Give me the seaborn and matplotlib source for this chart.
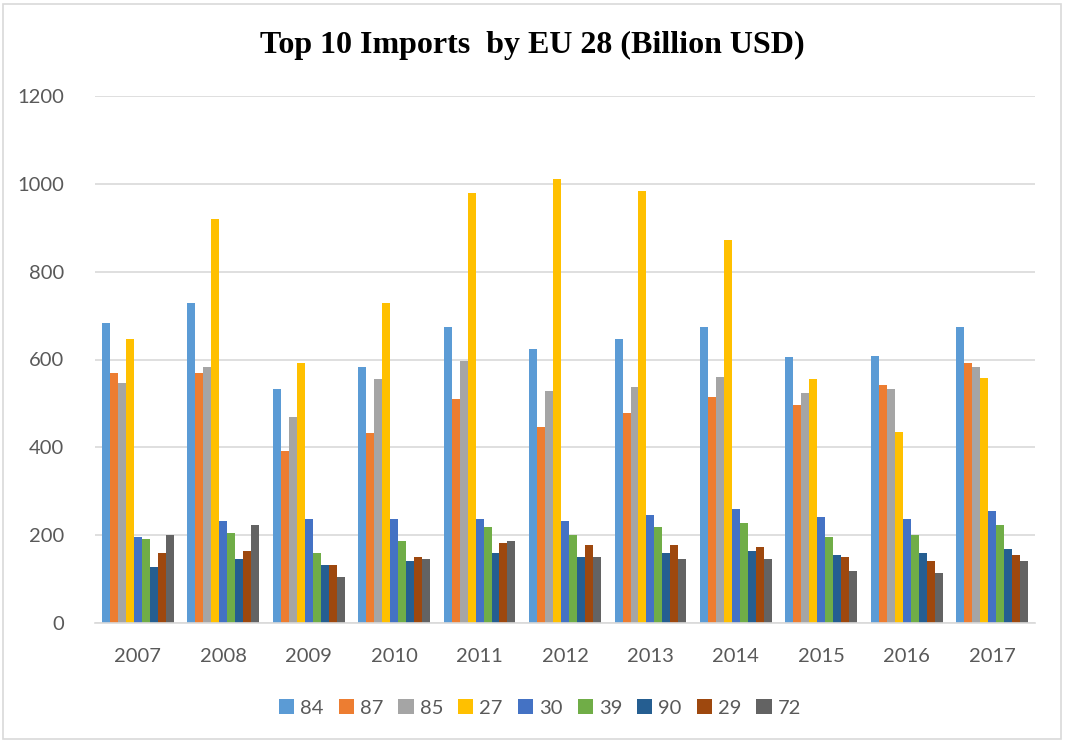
import matplotlib
matplotlib.use("Agg")
import matplotlib.pyplot as plt
import seaborn as sns
import pandas as pd
from matplotlib.patches import Rectangle

years = ["2007", "2008", "2009", "2010", "2011", "2012", "2013", "2014", "2015", "2016", "2017"]
codes = ["84", "87", "85", "27", "30", "39", "90", "29", "72"]

hs84 = [682, 728, 533, 583, 673, 623, 646, 673, 605, 609, 673]
hs87 = [569, 569, 392, 433, 510, 446, 478, 514, 496, 541, 591]
hs85 = [546, 583, 469, 555, 596, 528, 537, 560, 523, 532, 582]
hs27 = [646, 920, 592, 728, 978, 1010, 983, 873, 555, 436, 559]
hs30 = [196, 233, 237, 237, 237, 233, 246, 260, 242, 236, 255]
hs39 = [192, 205, 160, 187, 219, 201, 219, 228, 196, 200, 223]
hs90 = [128, 146, 133, 142, 160, 151, 160, 164, 155, 159, 168]
hs29 = [160, 164, 133, 151, 183, 178, 178, 173, 151, 141, 155]
hs72 = [201, 223, 105, 146, 187, 151, 146, 146, 119, 114, 141]

colors = ["#5B9BD5", "#ED7D31", "#A5A5A5", "#FFC000", "#4472C4",
          "#70AD47", "#255E91", "#9E480E", "#636363"]

series = [hs84, hs87, hs85, hs27, hs30, hs39, hs90, hs29, hs72]
rows = []
for code, vals in zip(codes, series):
    for yr, v in zip(years, vals):
        rows.append({"year": yr, "code": code, "value": v})
df = pd.DataFrame(rows)

sns.set_style("white")
plt.rcParams["font.family"] = ["Lato", "DejaVu Sans"]

W, H = 1065, 742
fig = plt.figure(figsize=(W / 100, H / 100), dpi=100)
ax = fig.add_axes([95 / W, 1 - 623 / H, (1035 - 95) / W, (623 - 96) / H])

sns.barplot(data=df, x="year", y="value", hue="code", order=years,
            hue_order=codes, palette=colors, width=0.84, gap=0.0,
            saturation=1, linewidth=0, ax=ax, legend=True)

ax.set_ylim(0, 1200)
ax.set_yticks(range(0, 1201, 200))
ax.yaxis.grid(True, color="#D9D9D9", linewidth=1.2)
ax.set_axisbelow(True)
for s in ["top", "right", "left"]:
    ax.spines[s].set_visible(False)
ax.spines["bottom"].set_color("#D9D9D9")
ax.spines["bottom"].set_linewidth(1.2)
ax.tick_params(axis="both", length=0, labelsize=14.5, colors="#595959")
ax.tick_params(axis="x", pad=18)
ax.tick_params(axis="y", pad=22)
ax.set_xlabel("")
ax.set_ylabel("")

leg = ax.legend(loc="center",
                bbox_to_anchor=((540 - 95) / (1035 - 95), (623 - 708) / (623 - 96)),
                ncol=9, frameon=False, fontsize=14.5, handlelength=0.75,
                handleheight=0.75, handletextpad=0.3, columnspacing=0.75)
for t in leg.get_texts():
    t.set_color("#595959")

fig.text(0.5, 1 - 45 / H, "Top 10 Imports  by EU 28 (Billion USD)",
         ha="center", va="center", fontsize=23, fontweight="bold",
         family="Liberation Serif", color="black")

fig.patches.append(Rectangle((3 / W, 3 / H), (W - 7) / W, (H - 7) / H,
                             transform=fig.transFigure, fill=False,
                             edgecolor="#D9D9D9", linewidth=1.2))

fig.savefig("out.png", dpi=100)
